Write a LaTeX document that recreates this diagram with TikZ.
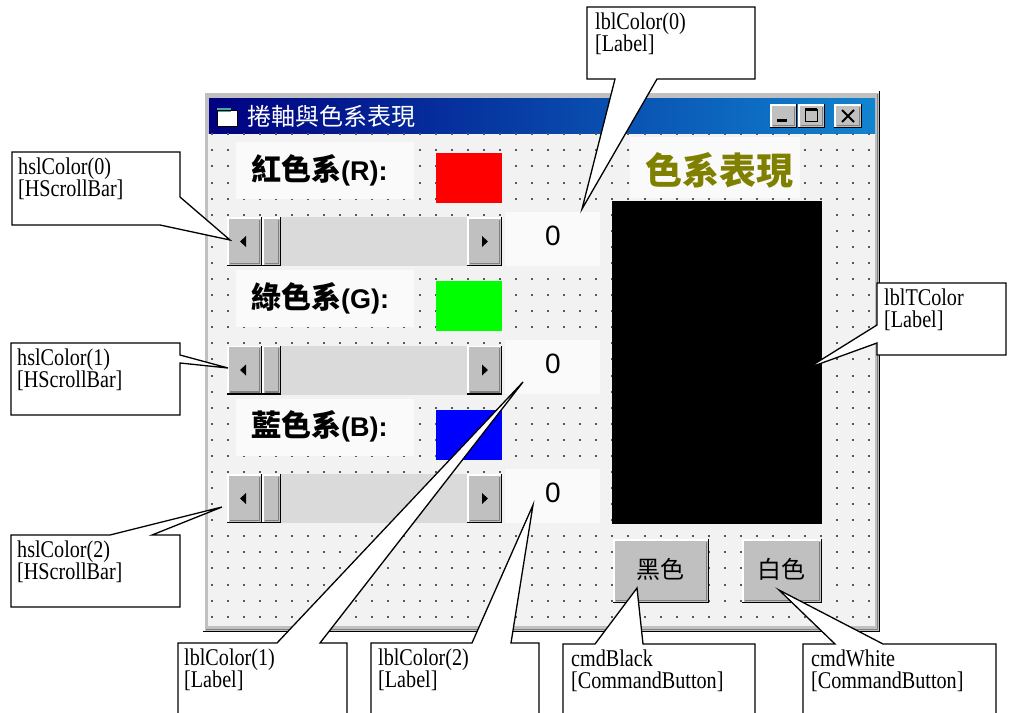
\documentclass[tikz,border=0pt]{standalone}
\usepackage{fontspec}
\setmainfont{Liberation Serif}
\newfontfamily\callfont[FakeStretch=0.84]{Liberation Serif}
\newfontfamily\cjk{Noto Sans CJK TC}
\newfontfamily\uifont{Liberation Sans}
\definecolor{winface}{RGB}{192,192,192}
\definecolor{winshade}{RGB}{128,128,128}
\definecolor{clientbg}{RGB}{242,242,242}
\definecolor{labelbg}{RGB}{250,250,250}
\definecolor{trackbg}{RGB}{218,218,218}
\definecolor{titleleft}{RGB}{0,0,128}
\definecolor{titleright}{RGB}{16,132,208}
\definecolor{labelolive}{RGB}{128,128,0}
\tikzset{
  callout/.style = {draw = black, fill = white, line width = 1.3pt, line join = miter},
  calltext/.style = {anchor = north west, inner sep = 0pt, align = left, font = \callfont\fontsize{24}{22}\selectfont},
  cjktext/.style = {inner sep = 0pt, font = \cjk\fontsize{#1}{#1}\selectfont},
}
\newcommand{\winbutton}[4]{%
  \fill[winface] (#1,#2) rectangle (#3,#4);
  \draw[white, line width = 1.5pt] (#1+1,#4-1) -- (#1+1,#2+1) -- (#3-1,#2+1);
  \draw[winshade, line width = 1.5pt] (#1+2.5,#4-2.5) -- (#3-2.5,#4-2.5) -- (#3-2.5,#2+2.5);
  \draw[black, line width = 1.5pt] (#1,#4-0.75) -- (#3-0.75,#4-0.75) -- (#3-0.75,#2);
}
\begin{document}
\begin{tikzpicture}[x = 1pt, y = -1pt]
\useasboundingbox (0,0) rectangle (1009,712);
\fill[white] (0,0) rectangle (1009,712);
\winbutton{203}{91}{880}{632}
\shade[left color = titleleft, right color = titleright] (209,98) rectangle (875,133);
\fill[white] (217,110) rectangle (237,126);
\fill[teal!70] (217,108) rectangle (231,112);
\draw[black, line width = 1pt] (217,110) rectangle (237,126);
\node[cjktext = 24, text = white, anchor = west] (title) at (247,116) {捲軸與色系表現};
\winbutton{770}{104}{797}{128}
\winbutton{798}{104}{825}{128}
\winbutton{834}{104}{862}{128}
\fill[black] (777,119) rectangle (787,122);
\draw[black, line width = 1pt] (805,109) rectangle (817,121);
\draw[black, line width = 2.5pt] (805,109.5) -- (817,109.5);
\draw[black, line width = 2pt] (842,110) -- (854,122) (854,110) -- (842,122);
\fill[clientbg] (208,134) rectangle (875,626);
\foreach \c in {0,...,41} \foreach \r in {0,...,30}
  \fill[black!65] ({211.7+16.03*\c-1},{136.3+16.08*\r-1}) rectangle +(2,-2);
\fill[labelbg] (630,137) rectangle (800,198);
\node[inner sep = 0pt, text = labelolive, font = \cjk\bfseries\fontsize{37}{37}\selectfont] (paneltitle) at (719,170) {色系表現};
\fill[black] (612,201) rectangle (822,524);
\foreach \i/\name/\ch/\col in {0/紅色系/R/red, 1/綠色系/G/green, 2/藍色系/B/blue} {
  \pgfmathsetmacro\off{128.3*\i}
  \pgfmathsetmacro\sbtop{217+128.5*\i}
  \pgfmathsetmacro\sbbot{\sbtop+49}
  \pgfmathsetmacro\sbmid{\sbtop+24.5}
  \fill[labelbg] (236,142+\off) rectangle (414,199+\off);
  \fill[labelbg] (505,212+\off) rectangle (600,266+\off);
  \node[anchor = base west, inner sep = 0pt] (caption\i) at (251,180+\off)
    {\cjk\bfseries\fontsize{30}{30}\selectfont \name\uifont\fontsize{27}{27}\selectfont(\ch):};
  \fill[\col] (436,153+\off) rectangle (502,203+\off);
  \node[inner sep = 0pt, font = \uifont\fontsize{28}{28}\selectfont] (value\i) at (553,236+\off) {0};
  \fill[trackbg] (227,\sbtop) rectangle (502,\sbbot);
  \winbutton{227}{\sbtop}{262}{\sbbot}
  \winbutton{262}{\sbtop}{281}{\sbbot}
  \winbutton{467}{\sbtop}{502}{\sbbot}
  \fill[black] (240,\sbmid) -- (246,\sbmid-5.5) -- (246,\sbmid+5.5) -- cycle;
  \fill[black] (488,\sbmid) -- (482,\sbmid-5.5) -- (482,\sbmid+5.5) -- cycle;
}
\winbutton{613}{539}{709}{603}
\winbutton{742}{539}{822}{603}
\node[cjktext = 24] (btnBlack) at (660,569) {黑色};
\node[cjktext = 24] (btnWhite) at (781,569) {白色};
\coordinate (hsl0tip) at (230,240);
\coordinate (hsl1tip) at (228,368);
\coordinate (hsl2tip) at (222,507);
\coordinate (lbl0tip) at (582,209);
\coordinate (lbl1tip) at (523,382);
\coordinate (lbl2tip) at (533,505);
\coordinate (lblTtip) at (808,368);
\coordinate (cmdBtip) at (637,588);
\coordinate (cmdWtip) at (779,590);
\draw[callout] (12,152) -- (180,152) -- (180,197) -- (hsl0tip) -- (160,225) -- (12,225) -- cycle;
\draw[callout] (11,343) -- (180,343) -- (180,355) -- (hsl1tip) -- (180,363) -- (180,415) -- (11,415) -- cycle;
\draw[callout] (11,535) -- (110,535) -- (hsl2tip) -- (152,535) -- (180,535) -- (180,607) -- (11,607) -- cycle;
\draw[callout] (587,7) -- (755,7) -- (755,79) -- (657,79) -- (lbl0tip) -- (615,79) -- (587,79) -- cycle;
\draw[callout] (877,283) -- (1006,283) -- (1006,355) -- (877,355) -- (877,343) -- (lblTtip) -- (877,325) -- cycle;
\draw[callout] (178,720) -- (178,643) -- (277,643) -- (lbl1tip) -- (320,643) -- (347,643) -- (347,720);
\draw[callout] (371,720) -- (371,643) -- (472,643) -- (lbl2tip) -- (511,643) -- (539,643) -- (539,720);
\draw[callout] (563,720) -- (563,644) -- (595,644) -- (cmdBtip) -- (643,644) -- (755,644) -- (755,720);
\draw[callout] (803,720) -- (803,644) -- (835,644) -- (cmdWtip) -- (883,644) -- (996,644) -- (996,720);
\node[calltext] (hsl0) at (18,158) {hslColor(0)\\{}[HScrollBar]};
\node[calltext] (hsl1) at (17,349) {hslColor(1)\\{}[HScrollBar]};
\node[calltext] (hsl2) at (17,541) {hslColor(2)\\{}[HScrollBar]};
\node[calltext] (lbl0) at (595,13) {lblColor(0)\\{}[Label]};
\node[calltext] (lblT) at (884,289) {lblTColor\\{}[Label]};
\node[calltext] (lbl1) at (184,649) {lblColor(1)\\{}[Label]};
\node[calltext] (lbl2) at (378,649) {lblColor(2)\\{}[Label]};
\node[calltext] (cmdB) at (571,650) {cmdBlack\\{}[CommandButton]};
\node[calltext] (cmdW) at (811,650) {cmdWhite\\{}[CommandButton]};
\end{tikzpicture}
\end{document}
